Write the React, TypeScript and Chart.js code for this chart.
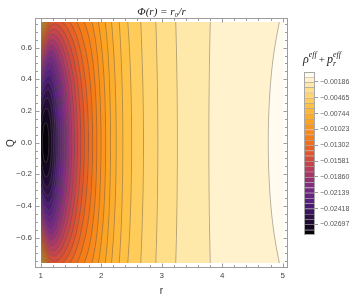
import { useEffect, useRef } from 'react';
import { Chart, registerables } from 'chart.js';
Chart.register(...registerables);

// ---- data ----
const rNodes = [1.0, 1.05, 1.1, 1.15, 1.2, 1.25, 1.3, 1.4, 1.5, 1.6, 1.7, 1.8, 1.9, 2.0, 2.1, 2.2, 2.3, 2.4, 2.5, 2.6, 2.7, 2.8, 3.0, 3.26, 3.5, 3.78, 4.0, 4.4, 4.82, 5.0];
// value of rho_eff + p_r_eff along Q = 0
const valuesAtQ0 = [-0.0272, -0.0282, -0.0283, -0.0276, -0.0263, -0.0247, -0.0231, -0.0203, -0.018, -0.016, -0.0143, -0.0129, -0.01155, -0.0102, -0.009, -0.0079, -0.007, -0.0062, -0.0056, -0.0051, -0.00465, -0.00425, -0.0035, -0.00279, -0.0023, -0.00186, -0.0016, -0.00123, -0.00089, -0.0008];
// value along the top / bottom edge, Q = ±Q_EDGE
const valuesAtQEdge = [-0.0041, -0.0086, -0.0116, -0.0137, -0.0145, -0.0146, -0.0144, -0.0137, -0.0129, -0.0121, -0.0113, -0.0106, -0.0098, -0.0089, -0.0081, -0.0072, -0.0065, -0.0058, -0.0053, -0.0049, -0.00445, -0.0041, -0.00339, -0.00273, -0.0023, -0.00189, -0.00164, -0.0013, -0.001, -0.0009];
const Q_EDGE = 0.76;
const R_RANGE = [1, 5];

const contourLevels = [-0.00093, -0.00186, -0.00279, -0.00372, -0.00465, -0.00558, -0.00651, -0.00744, -0.00837, -0.0093, -0.01023, -0.01116, -0.01209, -0.01302, -0.01395, -0.01488, -0.01581, -0.01674, -0.01767, -0.0186, -0.01953, -0.02046, -0.02139, -0.02232, -0.02325, -0.02418, -0.02511, -0.02604, -0.02697, -0.0279];
const colorRange = [-0.02883, -0.0001];
const legendTicks = [-0.00186, -0.00465, -0.00744, -0.01023, -0.01302, -0.01581, -0.0186, -0.02139, -0.02418, -0.02697];
const legendTickLabels = ['−0.00186', '−0.00465', '−0.00744', '−0.01023', '−0.01302', '−0.01581', '−0.01860', '−0.02139', '−0.02418', '−0.02697'];
const xTicks = [1, 2, 3, 4, 5];
const xTickLabels = ['1', '2', '3', '4', '5'];
const yTicks = [-0.6, -0.4, -0.2, 0, 0.2, 0.4, 0.6];
const yTickLabels = ['−0.6', '−0.4', '−0.2', '0.0', '0.2', '0.4', '0.6'];

// Sunset-like colour gradient
const sunsetStops: [number, number, number, number][] = [
  [0.0, 0, 0, 0],
  [0.1, 40, 15, 64],
  [0.2, 84, 31, 128],
  [0.3, 128, 43, 130],
  [0.4, 184, 59, 97],
  [0.5, 224, 84, 46],
  [0.6, 246, 125, 22],
  [0.7, 252, 165, 35],
  [0.8, 255, 195, 70],
  [0.9, 255, 226, 145],
  [1.0, 255, 255, 255],
];
function sunset(v: number): [number, number, number] {
  let t = (v - colorRange[0]) / (colorRange[1] - colorRange[0]);
  t = Math.max(0, Math.min(1, t));
  for (let i = 0; i < sunsetStops.length - 1; i++) {
    const a = sunsetStops[i], b = sunsetStops[i + 1];
    if (t <= b[0]) {
      const u = (t - a[0]) / (b[0] - a[0]);
      return [a[1] + (b[1] - a[1]) * u, a[2] + (b[2] - a[2]) * u, a[3] + (b[3] - a[3]) * u];
    }
  }
  return [255, 255, 255];
}
const rgb = (c: number[]) => `rgb(${Math.round(c[0])},${Math.round(c[1])},${Math.round(c[2])})`;

const bandEdges = [colorRange[1], ...contourLevels, colorRange[0]];
const bandColors = bandEdges.slice(0, -1).map((hi, i) => sunset((hi + bandEdges[i + 1]) / 2));

function tangents(xs: number[], ys: number[]) {
  const n = xs.length;
  const m: number[] = [];
  for (let k = 0; k < n; k++) {
    if (k === 0) m.push((ys[1] - ys[0]) / (xs[1] - xs[0]));
    else if (k === n - 1) m.push((ys[n - 1] - ys[n - 2]) / (xs[n - 1] - xs[n - 2]));
    else m.push(0.5 * ((ys[k + 1] - ys[k]) / (xs[k + 1] - xs[k]) + (ys[k] - ys[k - 1]) / (xs[k] - xs[k - 1])));
  }
  return m;
}
const m0 = tangents(rNodes, valuesAtQ0);
const mE = tangents(rNodes, valuesAtQEdge);
function hermite(xs: number[], ys: number[], ms: number[], x: number) {
  const n = xs.length;
  if (x <= xs[0]) return ys[0];
  if (x >= xs[n - 1]) return ys[n - 1];
  let i = 0;
  while (i < n - 2 && x > xs[i + 1]) i++;
  const h = xs[i + 1] - xs[i];
  const t = (x - xs[i]) / h;
  const t2 = t * t, t3 = t2 * t;
  return (2 * t3 - 3 * t2 + 1) * ys[i] + (t3 - 2 * t2 + t) * h * ms[i] + (-2 * t3 + 3 * t2) * ys[i + 1] + (t3 - t2) * h * ms[i + 1];
}
function fieldAt(r: number, qq: number) {
  const a = hermite(rNodes, valuesAtQ0, m0, r);
  const e = hermite(rNodes, valuesAtQEdge, mE, r);
  return a + (e - a) * qq;
}
function bandIndex(f: number) {
  for (let i = 0; i < contourLevels.length; i++) if (f > contourLevels[i]) return i;
  return contourLevels.length;
}

const LINE_RGB = [85, 80, 75];
const LINE_ALPHA = 0.5;

const fieldPlugin = {
  id: 'field',
  beforeDatasetsDraw(chart: any) {
    const { ctx, scales } = chart;
    const x = scales.x, y = scales.y;
    const px0 = Math.round(x.getPixelForValue(R_RANGE[0]));
    const px1 = Math.round(x.getPixelForValue(R_RANGE[1]));
    const py0 = Math.round(y.getPixelForValue(Q_EDGE));
    const py1 = Math.round(y.getPixelForValue(-Q_EDGE));
    const w = px1 - px0, h = py1 - py0;
    const W = w + 2, H = h + 2;
    const F = new Float64Array(W * H);
    for (let j = 0; j < H; j++) {
      const q = y.getValueForPixel(py0 + j - 0.5);
      const qq = Math.min(1, (q / Q_EDGE) ** 2);
      for (let i = 0; i < W; i++) {
        const r = x.getValueForPixel(px0 + i - 0.5);
        F[j * W + i] = fieldAt(r, qq);
      }
    }
    const off = document.createElement('canvas');
    off.width = w; off.height = h;
    const octx = off.getContext('2d')!;
    const img = octx.createImageData(w, h);
    const d = img.data;
    for (let j = 0; j < h; j++) {
      for (let i = 0; i < w; i++) {
        const k = (j + 1) * W + (i + 1);
        const f = F[k];
        const gx = (F[k + 1] - F[k - 1]) / 2;
        const gy = (F[k + W] - F[k - W]) / 2;
        const g = Math.hypot(gx, gy) + 1e-12;
        const c = bandColors[bandIndex(f)];
        let keep = 1;
        for (let l = 0; l < contourLevels.length; l++) {
          const dist = Math.abs(f - contourLevels[l]) / g;
          if (dist < 1.2) {
            const cov = Math.max(0, Math.min(1, 0.85 - dist * 0.9));
            keep *= 1 - LINE_ALPHA * cov;
          }
        }
        const a = 1 - keep;
        const o = (j * w + i) * 4;
        d[o] = c[0] * (1 - a) + LINE_RGB[0] * a;
        d[o + 1] = c[1] * (1 - a) + LINE_RGB[1] * a;
        d[o + 2] = c[2] * (1 - a) + LINE_RGB[2] * a;
        d[o + 3] = 255;
      }
    }
    octx.putImageData(img, 0, 0);
    ctx.drawImage(off, px0, py0);
  },
};

const FRAME = '#9c9c9c';
const framePlugin = {
  id: 'frame',
  afterDraw(chart: any) {
    const { ctx, chartArea: a, scales } = chart;
    const x = scales.x, y = scales.y;
    ctx.save();
    ctx.strokeStyle = FRAME;
    ctx.lineWidth = 1;
    const L = Math.round(a.left) + 0.5, R = Math.round(a.right) - 0.5;
    const T = Math.round(a.top) + 0.5, B = Math.round(a.bottom) - 0.5;
    ctx.strokeRect(L, T, R - L, B - T);
    ctx.beginPath();
    for (let s = 0; s <= 20; s++) {
      const v = 1 + s * 0.2;
      const major = s % 5 === 0;
      const len = major ? 4 : 2.5;
      const p = Math.round(x.getPixelForValue(v)) + 0.5;
      ctx.moveTo(p, B); ctx.lineTo(p, B - len);
      ctx.moveTo(p, T); ctx.lineTo(p, T + len);
    }
    for (let s = -15; s <= 15; s++) {
      const v = s * 0.05;
      const major = s % 4 === 0;
      const len = major ? 4 : 2.5;
      const p = Math.round(y.getPixelForValue(v)) + 0.5;
      ctx.moveTo(L, p); ctx.lineTo(L + len, p);
      ctx.moveTo(R, p); ctx.lineTo(R - len, p);
    }
    ctx.stroke();
    ctx.restore();
  },
};

const cbPlugin = {
  id: 'cbDecor',
  afterDraw(chart: any) {
    const { ctx, chartArea: a } = chart;
    ctx.save();
    ctx.strokeStyle = '#a8a8a8';
    ctx.lineWidth = 1;
    ctx.strokeRect(Math.round(a.left) + 0.5, Math.round(a.top) + 0.5, Math.round(a.right - a.left) - 1, Math.round(a.bottom - a.top) - 1);
    ctx.fillStyle = '#222';
    ctx.textBaseline = 'alphabetic';
    let xx = 13;
    const base = 63;
    const big = 'italic 12px "Liberation Serif", "DejaVu Serif", serif';
    const small = 'italic 8px "Liberation Serif", "DejaVu Serif", serif';
    const put = (t: string, font: string, dy: number) => {
      ctx.font = font;
      ctx.fillText(t, xx, base + dy);
      xx += ctx.measureText(t).width;
    };
    put('ρ', big, 0);
    put('eff', small, -6);
    xx += 2;
    put('+', '11px "Liberation Serif", serif', 0);
    xx += 2;
    put('p', big, 0);
    const xs = xx;
    put('r', small, 3);
    xx = xs;
    put('eff', small, -6);
    ctx.restore();
  },
};

export default function App() {
  const mainRef = useRef<HTMLCanvasElement>(null);
  const cbRef = useRef<HTMLCanvasElement>(null);
  useEffect(() => {
    const tickFont = { family: '"Liberation Sans", "DejaVu Sans", sans-serif', size: 8 };
    const main = new Chart(mainRef.current!, {
      type: 'scatter',
      data: { datasets: [{ data: [], pointRadius: 0 }] },
      options: {
        animation: false,
        responsive: false,
        layout: { padding: { left: 0, right: 12, top: 0, bottom: 0 } },
        plugins: {
          legend: { display: false },
          tooltip: { enabled: false },
          title: {
            display: true,
            text: 'Φ(r) = r₀/r',
            fullSize: false,
            color: '#222',
            font: { family: '"Liberation Serif", "DejaVu Serif", serif', style: 'italic', weight: 'normal', size: 11, lineHeight: 1 },
            padding: { top: 7, bottom: 0 },
          },
        },
        scales: {
          x: {
            type: 'linear',
            min: 0.906,
            max: 5.088,
            afterBuildTicks: (s: any) => { s.ticks = xTicks.map((v) => ({ value: v })); },
            afterFit: (s: any) => { s.height = 31; },
            ticks: { font: tickFont, color: '#444', padding: 3, maxRotation: 0, autoSkip: false, callback: (_v: any, i: number) => xTickLabels[i] },
            grid: { display: false, drawTicks: false },
            border: { display: false },
            title: { display: true, text: 'r', color: '#333', font: { family: '"Liberation Sans", "DejaVu Sans", sans-serif', size: 10, lineHeight: 1.2 }, padding: { top: 0, bottom: 1.5 } },
          },
          y: {
            type: 'linear',
            min: -0.792,
            max: 0.787,
            afterBuildTicks: (s: any) => { s.ticks = yTicks.map((v) => ({ value: v })); },
            afterFit: (s: any) => { s.width = 35; },
            ticks: { font: tickFont, color: '#444', padding: 3, autoSkip: false, callback: (_v: any, i: number) => yTickLabels[i] },
            grid: { display: false, drawTicks: false },
            border: { display: false },
            title: { display: true, text: 'Q', color: '#333', font: { family: '"Liberation Sans", "DejaVu Sans", sans-serif', size: 10, lineHeight: 1.2 }, padding: { top: 5, bottom: 0 } },
          },
        },
      },
      plugins: [fieldPlugin, framePlugin],
    } as any);

    const cbDatasets = bandColors.map((c, i) => ({
      data: [[bandEdges[i + 1], bandEdges[i]]],
      backgroundColor: rgb(c),
      borderColor: i === 0 ? 'rgba(0,0,0,0)' : 'rgba(70,60,50,0.45)',
      borderWidth: { top: i === 0 ? 0 : 1, bottom: 0, left: 0, right: 0 },
      borderSkipped: false,
      barPercentage: 1,
      categoryPercentage: 1,
      grouped: false,
    }));
    const cb = new Chart(cbRef.current!, {
      type: 'bar',
      data: { labels: ['bar'], datasets: cbDatasets },
      options: {
        animation: false,
        responsive: false,
        layout: { padding: { left: 14, top: 72, bottom: 64, right: 0 } },
        plugins: { legend: { display: false }, tooltip: { enabled: false } },
        scales: {
          x: { display: false },
          y: {
            position: 'right',
            min: colorRange[0],
            max: colorRange[1],
            afterBuildTicks: (s: any) => { s.ticks = legendTicks.map((v) => ({ value: v })); },
            afterFit: (s: any) => { s.width = 41; },
            ticks: { font: { family: '"Liberation Sans", "DejaVu Sans", sans-serif', size: 7 }, color: '#555', padding: 2, autoSkip: false, callback: (_v: any, i: number) => legendTickLabels[i] },
            grid: { display: true, drawOnChartArea: false, drawTicks: true, tickLength: 3, color: '#999' },
            border: { display: false },
          },
        },
      },
      plugins: [cbPlugin],
    } as any);
    return () => { main.destroy(); cb.destroy(); };
  }, []);
  return (
    <div style={{ position: 'fixed', left: 0, top: 0, width: 356, height: 299, background: '#fff' }}>
      <canvas ref={mainRef} width={300} height={299} style={{ position: 'absolute', left: 0, top: 0, width: 300, height: 299 }} />
      <canvas ref={cbRef} width={66} height={299} style={{ position: 'absolute', left: 290, top: 0, width: 66, height: 299 }} />
    </div>
  );
}
